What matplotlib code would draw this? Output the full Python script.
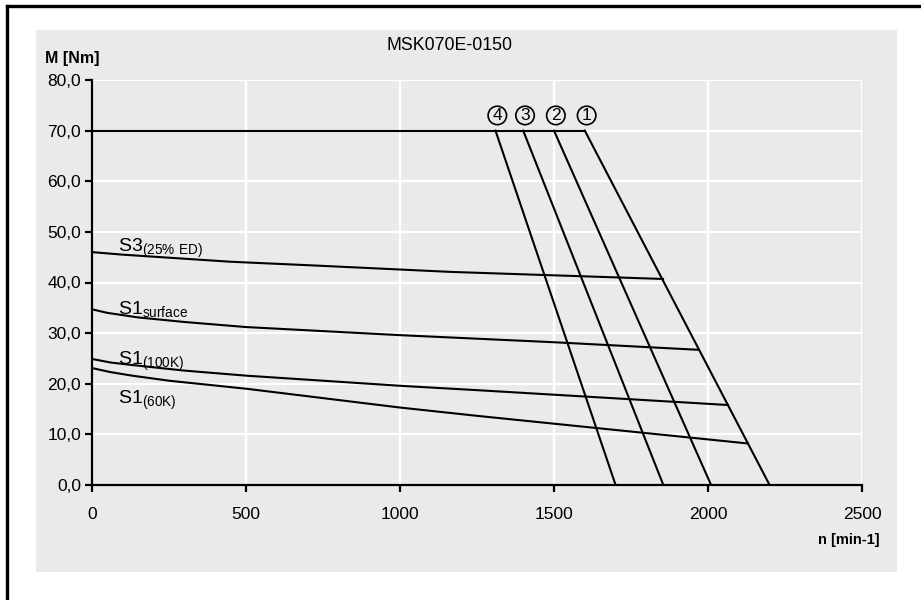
import matplotlib.pyplot as plt
from matplotlib.patches import Rectangle
from matplotlib.lines import Line2D
from matplotlib.ticker import FuncFormatter

plt.rcParams['font.family'] = ['Liberation Sans', 'DejaVu Sans']
plt.rcParams['mathtext.default'] = 'regular'

# voltage limit curves: flat 70 Nm up to the corner speed, then down to zero
limit_names = ["1", "2", "3", "4"]
corner_speed = [1600, 1500, 1400, 1310]
max_speed = [2200, 2010, 1855, 1700]
peak_torque = 70.0

# S-curves (speed, torque)
s3_n = [0, 100, 250, 450, 708, 1162, 1854]
s3_m = [46.0, 45.5, 44.9, 44.1, 43.4, 42.1, 40.7]
surf_n = [0, 50, 150, 300, 500, 1000, 1500, 1970]
surf_m = [34.7, 34.0, 33.1, 32.2, 31.2, 29.6, 28.2, 26.7]
k100_n = [0, 60, 130, 300, 500, 1000, 1260, 2065]
k100_m = [24.9, 24.2, 23.7, 22.6, 21.6, 19.6, 18.7, 15.8]
k60_n = [0, 60, 130, 250, 503, 1000, 1260, 2130]
k60_m = [23.1, 22.3, 21.6, 20.6, 19.0, 15.3, 13.6, 8.2]

s_labels = [r"S3$_{(25\%\ ED)}$", r"S1$_{surface}$", r"S1$_{(100K)}$", r"S1$_{(60K)}$"]
s_label_pos = [(85, 46.0), (85, 33.8), (85, 23.7), (85, 16.0)]

x_ticks = [0, 500, 1000, 1500, 2000, 2500]
y_ticks = [0, 10, 20, 30, 40, 50, 60, 70, 80]

fig = plt.figure(figsize=(9.21, 6.0), dpi=100)
fig.patch.set_facecolor("white")

# gray panel behind the chart
fig.patches.append(Rectangle((36 / 921, 1 - 572 / 600), (897 - 36) / 921, (572 - 30) / 600,
                             transform=fig.transFigure, facecolor="#eaeaea", edgecolor="none", zorder=-10))
# partial outer frame (top and left)
fig.lines.append(Line2D([7 / 921, 1], [1 - 6 / 600, 1 - 6 / 600], transform=fig.transFigure, color="black", lw=2.4))
fig.lines.append(Line2D([7 / 921, 7 / 921], [0, 1 - 6 / 600], transform=fig.transFigure, color="black", lw=2.4))

ax = fig.add_axes([92 / 921, 1 - 485 / 600, (862 - 92) / 921, (485 - 80) / 600])
ax.set_facecolor("#eaeaea")
ax.set_xlim(0, 2500)
ax.set_ylim(0, 80)
ax.set_xticks(x_ticks)
ax.set_yticks(y_ticks)
ax.yaxis.set_major_formatter(FuncFormatter(lambda v, p: f"{v:.1f}".replace(".", ",")))
ax.grid(True, color="white", lw=1.6)
ax.set_axisbelow(True)
for s in ["top", "right"]:
    ax.spines[s].set_visible(False)
for s in ["left", "bottom"]:
    ax.spines[s].set_linewidth(1.6)
ax.tick_params(axis="both", direction="out", length=5, width=1.6, labelsize=12.5, colors="black")
ax.tick_params(axis="x", pad=11)
ax.tick_params(axis="y", pad=3)

line_kw = dict(color="black", lw=1.5, solid_joinstyle="miter")

# flat 70 Nm line up to the highest corner speed
ax.plot([0, max(corner_speed)], [peak_torque, peak_torque], **line_kw)
for name, nc, nmax in zip(limit_names, corner_speed, max_speed):
    ax.plot([nc, nmax], [peak_torque, 0], **line_kw)
    ax.text(nc + 6, 73.0, name, ha="center", va="center", fontsize=12.5,
            bbox=dict(boxstyle="circle,pad=0.1", fc="none", ec="black", lw=1.2))

for n, m in [(s3_n, s3_m), (surf_n, surf_m), (k100_n, k100_m), (k60_n, k60_m)]:
    ax.plot(n, m, **line_kw)

for lab, (px, py) in zip(s_labels, s_label_pos):
    ax.text(px, py, lab, fontsize=14, ha="left", va="baseline")

fig.text(449 / 921, 1 - 45 / 600, "MSK070E-0150", ha="center", va="center", fontsize=12.8)
fig.text(45 / 921, 1 - 58 / 600, "M [Nm]", ha="left", va="center", fontsize=11.5, fontweight="bold")
fig.text(880 / 921, 1 - 540 / 600, "n [min-1]", ha="right", va="center", fontsize=10.5, fontweight="bold")

fig.savefig("out.png", dpi=100)
